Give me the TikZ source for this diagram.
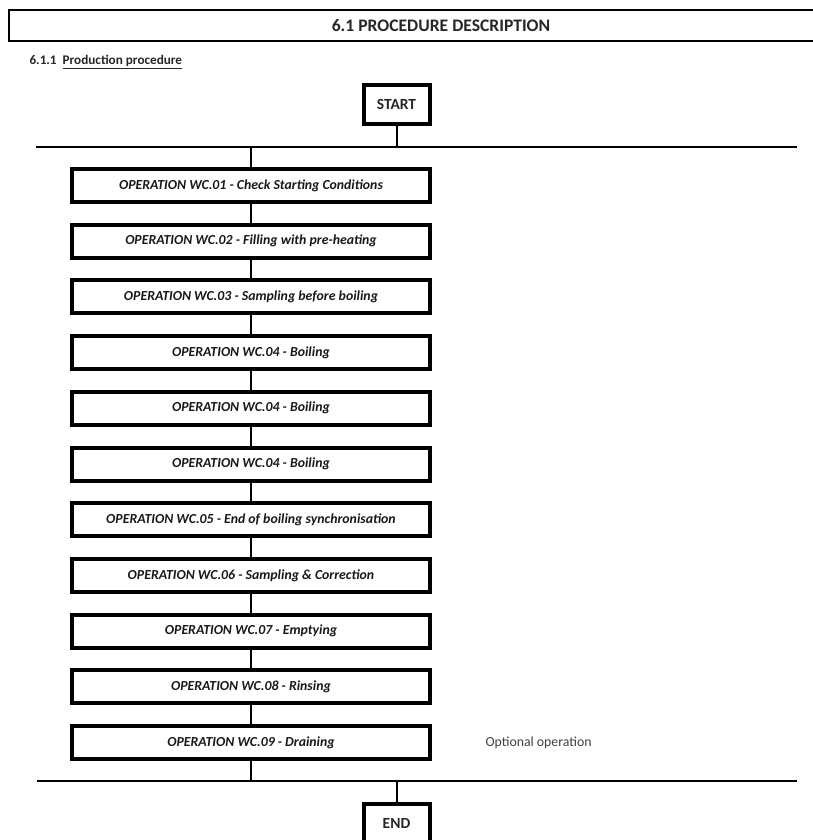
\documentclass[tikz,border=0pt]{standalone}
\usepackage{fontspec}
\setmainfont{Carlito}
\begin{document}
\begin{tikzpicture}[x=1pt,y=-1pt,
  opbox/.style={draw=black, line width=4pt, minimum width=358pt, minimum height=33pt, inner sep=0pt,
    font=\fontsize{13.8}{16}\selectfont\bfseries\itshape, text=black!90},
  termbox/.style={draw=black, line width=4pt, minimum width=66pt, minimum height=39pt, inner sep=0pt,
    font=\fontsize{15.5}{18}\selectfont\bfseries, text=black!85},
  conn/.style={draw=black, line width=2pt},
  bus/.style={draw=black, line width=2.6pt}]
\useasboundingbox (0,0) rectangle (813,840);
% title
\draw[line width=2.4pt] (9,10) rectangle (840,41);
\node[font=\fontsize{17.6}{20}\selectfont\bfseries, text=black!85] (title) at (441,26) {6.1 PROCEDURE DESCRIPTION};
\node[font=\fontsize{13.2}{15}\selectfont\bfseries, text=black!85, anchor=west] (sub) at (26,62)
  {6.1.1\hspace{6pt}\underline{Production procedure}};
% start
\node[termbox] (start) at (396.5,104.5) {START};
\coordinate (tl) at (36,147);
\coordinate (tr) at (797,147);
\coordinate (tj) at (396.5,147);
\coordinate (tk) at (251,147);
\draw[bus] (tl) -- (tr);
\draw[conn] (start.south) -- (tj);
% operations
\foreach \i/\t in {1/{OPERATION WC.01 - Check Starting Conditions},
                   2/{OPERATION WC.02 - Filling with pre-heating},
                   3/{OPERATION WC.03 - Sampling before boiling},
                   4/{OPERATION WC.04 - Boiling},
                   5/{OPERATION WC.04 - Boiling},
                   6/{OPERATION WC.04 - Boiling},
                   7/{OPERATION WC.05 - End of boiling synchronisation},
                   8/{OPERATION WC.06 - Sampling \& Correction},
                   9/{OPERATION WC.07 - Emptying},
                   10/{OPERATION WC.08 - Rinsing},
                   11/{OPERATION WC.09 - Draining}}
  \node[opbox] (o\i) at (251,{185.5+(\i-1)*55.7}) {\t};
\draw[conn] (tk) -- (o1.north);
\foreach \a/\b in {1/2,2/3,3/4,4/5,5/6,6/7,7/8,8/9,9/10,10/11}
  \draw[conn] (o\a.south) -- (o\b.north);
\node[font=\fontsize{13.8}{16}\selectfont, text=black!75, anchor=west] (opt) at (482,743) {Optional operation};
% bottom
\coordinate (bl) at (37,781);
\coordinate (br) at (797,781);
\coordinate (bk) at (251,781);
\coordinate (bj) at (396.5,781);
\draw[bus] (bl) -- (br);
\draw[conn] (o11.south) -- (bk);
\node[termbox] (end) at (396.5,823.5) {END};
\draw[conn] (bj) -- (end.north);
\end{tikzpicture}
\end{document}
